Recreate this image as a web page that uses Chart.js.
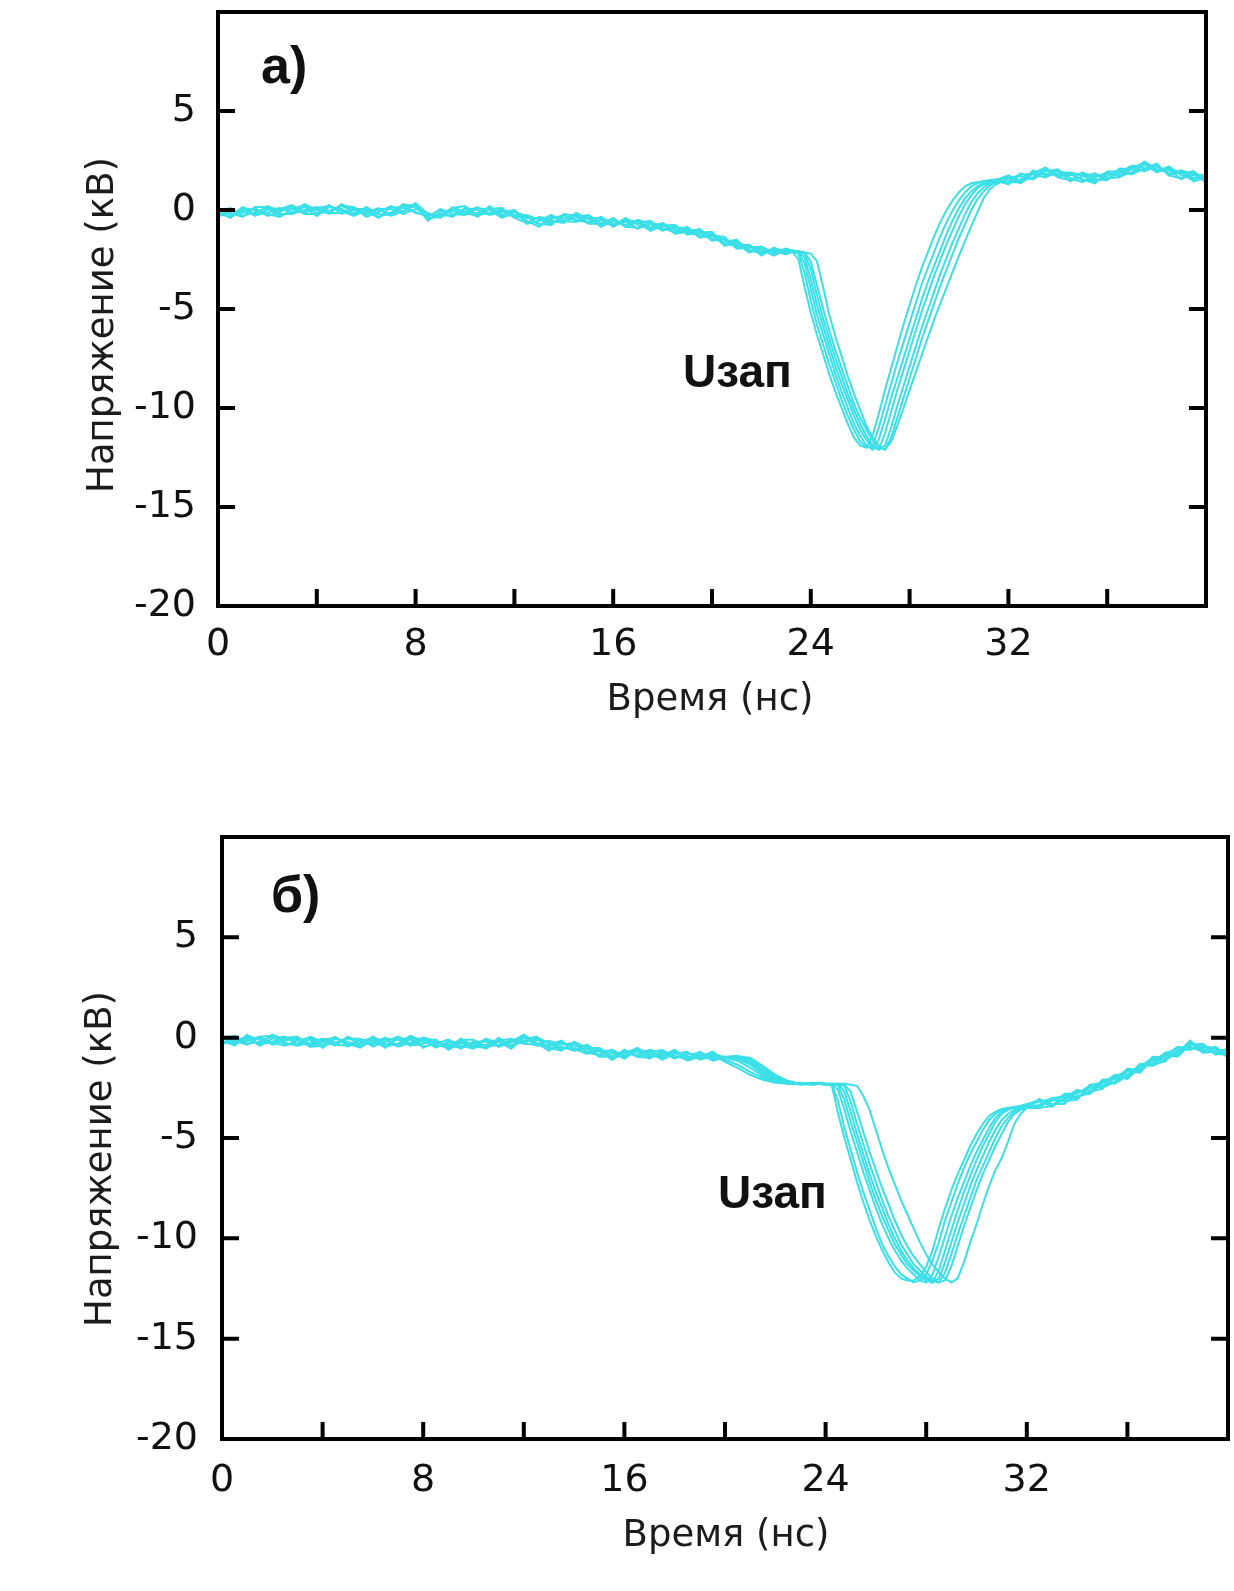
<!DOCTYPE html>
<html>
<head>
<meta charset="utf-8">
<script src="https://cdn.jsdelivr.net/npm/chart.js@4.4.1/dist/chart.umd.min.js"></script>
<style>
  html, body { margin: 0; padding: 0; background: #fff; }
  body { width: 1234px; height: 1591px; position: relative; overflow: hidden; }
  canvas { position: absolute; left: 0; }
  #panelA { top: -48px; }
  #panelB { top: 777px; }
</style>
</head>
<body>
<canvas id="panelA" width="1260" height="800"></canvas>
<canvas id="panelB" width="1260" height="800"></canvas>
<script>
// Time axis (ns) and voltage (kV) tick values shared by both panels
const timeTicks = [0, 4, 8, 12, 16, 20, 24, 28, 32, 36, 40];
const voltTicks = [-20, -15, -10, -5, 0, 5, 10];

// ---------- Panel (а): sample times, ns ----------
const timeA = [
  0,0.5,1,1.5,2,2.5,3,3.5,4,4.5,5,5.5,6,6.5,7,7.5,8,8.5,9,9.5,10,10.5,11,11.5,12,12.5,13,13.5,14,14.5,15,15.5,16,16.5,17,17.5,18,18.5,19,19.5,20,20.5,21,21.5,22,22.5,23,
  23.25,23.5,23.75,24,24.25,24.5,24.75,25,25.25,25.5,25.75,26,26.25,26.5,26.75,27,27.25,27.5,27.75,28,28.25,28.5,28.75,29,29.25,29.5,29.75,30,30.25,30.5,30.75,31,31.25,31.5,
  32,32.5,33,33.5,34,34.5,35,35.5,36,36.5,37,37.5,38,38.5,39,39.5,40
];

// Panel (а): voltage of each recorded pulse, kV
const voltA1 = [
  0.1,-0.25,0.05,-0.3,0,0.1,-0.15,0.15,-0.3,0.15,0.05,-0.25,0.15,-0.2,-0.25,0.15,0.3,-0.5,-0.15,-0.35,0.1,0,-0.25,-0.1,0,-0.55,-0.85,-0.35,-0.45,-0.2,-0.65,-0.5,-0.8,-0.4,-0.75,-0.95,-0.65,-1.05,-1.0,-1.05,-1.55,-1.45,-1.8,-1.75,-2.15,-2.05,-2.25,
  -2.1,-2.5,-3.9,-5.2,-6.3,-7.3,-8.3,-9.2,-10.0,-10.8,-11.5,-11.9,-12.0,-11.4,-10.3,-9.1,-8.0,-6.9,-5.8,-4.8,-3.8,-2.9,-2.1,-1.3,-0.6,0.0,0.5,0.9,1.2,1.35,1.4,1.45,1.5,1.5,
  1.65,1.7,1.55,1.95,2.05,1.6,1.4,1.75,1.7,2.05,1.85,2.3,1.95,2.2,1.75,1.55,1.8
];
const voltA2 = [
  -0.3,0,-0.15,0.1,-0.3,-0.1,0.2,-0.1,0.05,-0.2,0.3,0,-0.25,0.05,0.05,-0.2,0.05,-0.15,-0.4,0.05,-0.15,-0.3,0.2,-0.3,-0.25,-0.25,-0.5,-0.7,-0.3,-0.5,-0.3,-0.85,-0.55,-0.75,-0.5,-0.7,-1.05,-0.8,-1.2,-1.25,-1.15,-1.7,-1.65,-2.15,-1.9,-2.2,-2.05,
  -2.1,-2.2,-3.2,-4.6,-5.8,-6.8,-7.8,-8.7,-9.6,-10.4,-11.1,-11.7,-12.0,-11.9,-11.0,-9.9,-8.8,-7.7,-6.7,-5.7,-4.7,-3.7,-2.9,-2.1,-1.3,-0.6,0.0,0.5,0.9,1.2,1.35,1.45,1.5,1.55,
  1.4,1.4,2.0,1.75,1.8,1.9,1.75,1.4,1.85,1.75,2.2,1.95,2.2,1.85,2.0,1.8,1.4
];
const voltA3 = [
  -0.05,0.1,-0.3,-0.1,0.1,-0.3,-0.1,0.3,0,-0.15,-0.15,0.1,-0.05,-0.4,0.15,0.1,-0.1,-0.35,0.05,-0.2,-0.25,0.1,0,-0.4,-0.1,-0.3,-0.75,-0.55,-0.65,-0.15,-0.45,-0.75,-0.4,-0.85,-0.6,-1.05,-0.8,-0.75,-1.25,-1.1,-1.3,-1.75,-1.55,-2.0,-2.2,-1.95,-2.1,
  -2.1,-2.15,-2.7,-4.0,-5.3,-6.3,-7.3,-8.3,-9.2,-10.0,-10.8,-11.4,-11.9,-12.1,-11.6,-10.6,-9.5,-8.5,-7.5,-6.5,-5.5,-4.5,-3.6,-2.8,-2.0,-1.2,-0.5,0.1,0.6,0.95,1.2,1.35,1.45,1.5,
  1.3,1.8,1.8,1.65,1.95,1.85,1.5,1.55,1.5,2.1,2.05,2.05,2.35,1.75,1.9,1.45,1.65
];
const voltA4 = [
  -0.2,-0.35,0.15,-0.25,-0.15,0.05,0.25,-0.15,0.1,0.2,-0.05,-0.3,0,0,-0.2,0.25,-0.15,-0.25,-0.25,0.1,0.2,-0.25,-0.15,0.05,-0.4,-0.65,-0.35,-0.45,-0.25,-0.55,-0.6,-0.35,-0.7,-0.55,-0.95,-0.6,-0.9,-1.15,-0.85,-1.35,-1.2,-1.5,-1.9,-1.85,-2.0,-2.3,-2.0,
  -2.05,-2.1,-2.4,-3.5,-4.8,-5.9,-6.9,-7.9,-8.8,-9.6,-10.4,-11.1,-11.6,-12.0,-12.1,-11.3,-10.2,-9.1,-8.1,-7.1,-6.1,-5.1,-4.2,-3.3,-2.5,-1.7,-1.0,-0.3,0.3,0.75,1.1,1.3,1.4,1.5,
  1.75,1.45,1.65,2.1,1.65,1.5,1.9,1.65,1.9,1.7,1.9,2.45,2.05,2.05,1.55,1.9,1.55
];
const voltA5 = [
  0.05,-0.15,-0.35,0.15,0.15,-0.2,-0.2,0,0.15,-0.05,0.2,0.15,-0.35,-0.1,0.2,-0.1,0.25,-0.55,-0.05,-0.05,-0.2,-0.15,0.1,-0.25,-0.05,-0.7,-0.55,-0.25,-0.6,-0.35,-0.25,-0.65,-0.75,-0.6,-0.55,-0.9,-0.75,-1.0,-1.15,-0.95,-1.45,-1.6,-1.5,-2.1,-2.1,-2.0,-2.2,
  -2.1,-2.1,-2.2,-3.0,-4.3,-5.5,-6.5,-7.5,-8.4,-9.3,-10.1,-10.8,-11.4,-11.9,-12.1,-11.9,-11.0,-9.9,-8.9,-7.9,-6.9,-5.9,-5.0,-4.1,-3.2,-2.4,-1.6,-0.9,-0.2,0.4,0.85,1.15,1.35,1.45,
  1.35,1.55,1.9,1.8,2.0,1.45,1.7,1.85,1.55,1.9,2.25,2.15,2.0,2.0,1.95,1.6,1.7
];
const voltA6 = [
  -0.35,-0.05,-0.05,-0.2,0.2,-0.05,0.1,-0.2,-0.2,0.25,-0.2,0.05,0.05,-0.35,-0.15,0.3,0.15,-0.4,-0.35,0.15,-0.1,0.15,-0.2,0,-0.3,-0.4,-0.4,-0.6,-0.55,-0.6,-0.4,-0.4,-0.85,-0.5,-0.65,-0.55,-1.0,-0.9,-0.9,-1.4,-1.3,-1.35,-1.95,-1.9,-1.85,-2.15,-1.95,
  -2.05,-2.1,-2.15,-2.6,-3.8,-5.0,-6.1,-7.1,-8.0,-8.9,-9.8,-10.5,-11.1,-11.6,-12.0,-12.1,-11.5,-10.5,-9.5,-8.5,-7.5,-6.5,-5.6,-4.7,-3.8,-3.0,-2.2,-1.4,-0.7,0.0,0.55,0.95,1.25,1.4,
  1.45,1.85,1.6,2.05,1.75,1.75,1.85,1.5,1.6,1.65,2.1,2.4,1.9,2.1,1.85,1.95,1.45
];
const voltA7 = [
  0,-0.4,0.1,0,-0.2,-0.35,0.05,0.25,-0.15,-0.1,0.25,-0.15,-0.15,0.1,-0.3,-0.05,0.35,-0.2,-0.3,-0.25,0.05,-0.35,0.05,0.1,-0.35,-0.35,-0.7,-0.75,-0.2,-0.3,-0.7,-0.7,-0.45,-0.85,-0.9,-0.75,-0.7,-1.2,-1.1,-1.15,-1.1,-1.8,-1.7,-1.8,-2.3,-1.9,-2.15,
  -2.05,-2.1,-2.15,-2.2,-2.6,-3.9,-5.3,-6.4,-7.4,-8.4,-9.3,-10.1,-10.9,-11.5,-11.9,-12.1,-11.7,-10.9,-10.0,-9.1,-8.2,-7.3,-6.4,-5.5,-4.7,-3.9,-3.1,-2.3,-1.55,-0.8,-0.1,0.6,1.05,1.3,
  1.6,1.35,1.85,2.15,1.7,1.8,1.55,1.35,1.95,1.95,1.8,2.1,2.3,1.75,1.6,1.75,1.75
];

// ---------- Panel (б): sample times, ns ----------
const timeB = [
  0,0.5,1,1.5,2,2.5,3,3.5,4,4.5,5,5.5,6,6.5,7,7.5,8,8.5,9,9.5,10,10.5,11,11.5,12,12.5,13,13.5,14,14.5,15,15.5,16,16.5,17,17.5,18,18.5,19,19.5,20,20.5,21,21.5,22,22.5,23,23.5,
  23.75,24,24.25,24.5,24.75,25,25.25,25.5,25.75,26,26.25,26.5,26.75,27,27.25,27.5,27.75,28,28.25,28.5,28.75,29,29.25,29.5,29.75,30,30.25,30.5,30.75,31,31.25,31.5,31.75,32,
  32.5,33,33.5,34,34.5,35,35.5,36,36.5,37,37.5,38,38.5,39,39.5,40
];

// Panel (б): voltage of each recorded pulse, kV
const voltB1 = [
  -0.05,0.1,-0.3,-0.2,0.05,-0.35,-0.3,0.05,-0.2,-0.35,-0.4,-0.1,-0.15,-0.5,0.0,-0.1,-0.45,-0.3,-0.1,-0.4,-0.55,-0.1,-0.2,-0.55,0.0,0.0,-0.55,-0.45,-0.65,-0.35,-0.7,-1.0,-0.6,-0.95,-0.7,-1.1,-0.8,-0.7,-1.1,-0.85,-1.2,-1.5,-1.85,-2.1,-2.25,-2.3,-2.25,-2.35,
  -2.3,-2.3,-2.4,-3.8,-5.0,-6.1,-7.2,-8.2,-9.1,-9.9,-10.6,-11.2,-11.7,-12.0,-12.1,-12.1,-11.9,-11.4,-10.6,-9.5,-8.5,-7.6,-6.8,-6.1,-5.4,-4.8,-4.3,-3.9,-3.7,-3.55,-3.5,-3.45,-3.4,-3.35,
  -3.2,-3.05,-3.2,-2.9,-2.8,-2.1,-2.05,-1.95,-1.3,-1.4,-0.85,-0.95,-0.35,-0.3,-0.85,-0.7
];
const voltB2 = [
  0.05,-0.15,-0.35,0.05,0.1,-0.25,-0.4,-0.25,-0.05,-0.25,-0.05,-0.05,-0.45,-0.2,0.05,-0.3,-0.1,-0.5,-0.2,-0.25,-0.5,-0.35,-0.1,-0.4,0.05,-0.4,-0.35,-0.15,-0.6,-0.55,-0.5,-0.9,-0.95,-0.7,-0.65,-0.95,-0.75,-0.95,-1.0,-0.7,-1.1,-1.35,-1.7,-2.0,-2.2,-2.25,-2.35,-2.3,
  -2.25,-2.35,-2.3,-3.2,-4.5,-5.6,-6.7,-7.7,-8.6,-9.5,-10.3,-10.9,-11.4,-11.8,-12.0,-12.2,-12.1,-11.8,-11.1,-10.2,-9.1,-8.2,-7.3,-6.5,-5.8,-5.2,-4.6,-4.1,-3.8,-3.6,-3.5,-3.5,-3.4,-3.3,
  -3.15,-3.45,-3.0,-2.6,-2.75,-2.3,-1.85,-1.85,-1.65,-1.15,-0.8,-0.8,-0.3,-0.55,-0.75,-0.55
];
const voltB3 = [
  0.1,-0.25,0.05,-0.4,-0.05,0.05,-0.35,-0.1,-0.5,-0.05,-0.2,-0.45,0.05,-0.3,-0.4,-0.05,-0.05,-0.45,-0.3,-0.55,-0.2,-0.2,-0.45,-0.25,0.1,-0.25,-0.65,-0.25,-0.45,-0.4,-0.9,-0.75,-1.0,-0.5,-0.85,-1.0,-0.65,-1.0,-0.85,-0.8,-1.0,-1.15,-1.5,-1.9,-2.15,-2.25,-2.3,-2.3,
  -2.3,-2.3,-2.35,-2.6,-3.6,-4.7,-5.7,-6.7,-7.6,-8.5,-9.3,-10.0,-10.6,-11.1,-11.5,-11.8,-12.1,-12.2,-11.8,-10.9,-9.9,-8.9,-8.0,-7.2,-6.4,-5.7,-5.1,-4.5,-4.0,-3.7,-3.55,-3.45,-3.4,-3.35,
  -3.1,-3.3,-3.3,-2.7,-2.6,-2.15,-2.25,-1.7,-1.7,-0.95,-1.0,-0.85,-0.2,-0.6,-0.6,-0.65
];
const voltB4 = [
  0.0,-0.4,0.1,-0.1,-0.25,-0.4,-0.15,0.0,-0.35,-0.3,0.0,-0.35,-0.25,0.0,-0.45,-0.25,0.0,-0.15,-0.45,-0.45,-0.25,-0.55,-0.15,-0.05,-0.25,-0.05,-0.5,-0.65,-0.2,-0.5,-0.95,-0.95,-0.65,-0.95,-1.0,-0.8,-0.7,-1.15,-0.95,-0.9,-0.95,-1.05,-1.35,-1.8,-2.1,-2.3,-2.3,-2.25,
  -2.3,-2.35,-2.3,-2.4,-3.1,-4.2,-5.2,-6.2,-7.2,-8.1,-8.9,-9.6,-10.3,-10.8,-11.3,-11.6,-11.9,-12.1,-12.2,-11.6,-10.6,-9.6,-8.6,-7.7,-6.9,-6.1,-5.4,-4.8,-4.2,-3.8,-3.6,-3.5,-3.45,-3.35,
  -3.45,-3.1,-3.15,-3.1,-2.35,-2.25,-2.3,-1.9,-1.35,-1.4,-1.15,-0.65,-0.25,-0.75,-0.7,-0.75
];
const voltB5 = [
  -0.3,0.0,-0.15,0.0,-0.35,-0.15,0.0,-0.35,-0.15,-0.4,0.05,-0.2,-0.35,-0.05,-0.1,-0.4,-0.3,-0.1,-0.55,-0.15,-0.45,-0.5,0.0,-0.45,-0.15,0.05,-0.3,-0.6,-0.3,-0.7,-0.55,-1.1,-0.75,-0.85,-0.6,-0.75,-1.05,-0.75,-1.05,-1.0,-1.0,-1.0,-1.25,-1.7,-2.05,-2.25,-2.3,-2.3,
  -2.25,-2.3,-2.35,-2.3,-2.7,-3.7,-4.8,-5.8,-6.8,-7.7,-8.5,-9.3,-10.0,-10.6,-11.1,-11.5,-11.8,-12.0,-12.2,-12.0,-11.2,-10.2,-9.2,-8.3,-7.4,-6.6,-5.9,-5.2,-4.6,-4.1,-3.8,-3.6,-3.5,-3.4,
  -3.35,-3.0,-2.95,-3.05,-2.45,-2.45,-1.9,-2.05,-1.45,-1.3,-0.75,-0.6,-0.6,-0.35,-0.8,-0.85
];
const voltB6 = [
  -0.35,-0.05,-0.05,-0.3,0.15,-0.1,-0.1,-0.45,-0.4,0.05,-0.45,-0.15,-0.05,-0.45,-0.3,0.1,-0.2,-0.35,-0.5,-0.05,-0.4,-0.05,-0.4,-0.15,-0.2,-0.1,-0.2,-0.5,-0.55,-0.8,-0.65,-0.65,-1.05,-0.6,-0.75,-0.6,-1.0,-0.85,-0.75,-1.15,-1.0,-0.95,-1.15,-1.6,-2.0,-2.2,-2.3,-2.3,
  -2.3,-2.3,-2.3,-2.35,-2.4,-3.2,-4.3,-5.3,-6.3,-7.2,-8.1,-8.9,-9.6,-10.3,-10.8,-11.3,-11.6,-11.9,-12.1,-12.2,-11.7,-10.8,-9.8,-8.9,-8.0,-7.1,-6.4,-5.7,-5.0,-4.4,-4.0,-3.7,-3.55,-3.45,
  -3.4,-3.15,-2.85,-2.95,-2.7,-2.55,-2.0,-1.6,-1.75,-1.05,-0.9,-0.45,-0.55,-0.45,-0.5,-1.0
];
const voltB7 = [
  -0.2,-0.35,0.15,-0.35,-0.2,0.0,0.05,-0.4,-0.1,0.0,-0.3,-0.5,-0.1,-0.1,-0.35,0.05,-0.5,-0.2,-0.4,-0.1,-0.1,-0.45,-0.35,-0.1,-0.3,-0.35,-0.15,-0.35,-0.25,-0.75,-0.85,-0.6,-0.9,-0.65,-1.05,-0.65,-0.9,-1.1,-0.7,-1.1,-0.95,-0.9,-1.05,-1.5,-1.95,-2.2,-2.3,-2.35,
  -2.3,-2.35,-2.3,-2.3,-2.35,-2.7,-3.7,-4.7,-5.7,-6.6,-7.5,-8.3,-9.1,-9.8,-10.4,-10.9,-11.3,-11.7,-12.0,-12.2,-12.1,-11.4,-10.4,-9.4,-8.5,-7.6,-6.8,-6.1,-5.4,-4.8,-4.2,-3.8,-3.6,-3.5,
  -3.5,-3.4,-2.8,-2.8,-2.4,-2.5,-2.2,-1.55,-1.6,-1.1,-1.2,-0.5,-0.45,-0.7,-0.45,-0.95
];
const voltB8 = [
  0.1,-0.3,-0.15,0.05,-0.3,-0.05,-0.05,-0.45,-0.2,0.0,-0.35,-0.3,0.05,-0.35,-0.05,-0.35,-0.15,-0.1,-0.6,-0.25,-0.45,-0.1,-0.45,-0.2,0.15,-0.3,-0.45,-0.2,-0.65,-0.5,-0.6,-1.1,-0.75,-0.55,-0.95,-0.9,-0.6,-1.1,-0.8,-1.05,-1.0,-0.95,-1.0,-1.4,-1.85,-2.15,-2.3,-2.3,
  -2.3,-2.3,-2.35,-2.3,-2.3,-2.35,-2.4,-2.9,-3.6,-4.6,-5.6,-6.5,-7.3,-8.1,-8.8,-9.5,-10.2,-10.8,-11.3,-11.7,-12.0,-12.2,-12.0,-11.2,-10.2,-9.3,-8.3,-7.4,-6.6,-6.0,-5.2,-4.3,-3.8,-3.5,
  -3.05,-3.35,-3.1,-2.65,-2.8,-2.25,-1.95,-2.05,-1.45,-1.0,-1.1,-0.75,-0.15,-0.7,-0.55,-0.9
];

const pulsesA = [voltA1, voltA2, voltA3, voltA4, voltA5, voltA6, voltA7];
const pulsesB = [voltB1, voltB2, voltB3, voltB4, voltB5, voltB6, voltB7, voltB8];

[[timeA, pulsesA], [timeB, pulsesB]].forEach(([t, set]) => {
  set.forEach((s, i) => {
    if (s.length !== t.length) throw new Error('pulse ' + (i + 1) + ': ' + s.length + ' values for ' + t.length + ' times');
  });
});

const TRACE_COLOR = '#3adfe7';
const TICK_FONT = { family: 'DejaVu Sans', size: 38 };

// Frame, inward tick marks and the in-plot captions
const framePlugin = {
  id: 'frame',
  afterDraw(chart, args, opts) {
    const { ctx, chartArea: a, scales: { x, y } } = chart;
    ctx.save();
    ctx.strokeStyle = '#000';
    ctx.lineWidth = 4;
    ctx.strokeRect(a.left, a.top, a.right - a.left, a.bottom - a.top);
    ctx.beginPath();
    timeTicks.forEach(t => {
      if (t <= x.min || t >= x.max) return;
      const px = x.getPixelForValue(t);
      ctx.moveTo(px, a.bottom);
      ctx.lineTo(px, a.bottom - 17);
    });
    voltTicks.forEach(v => {
      if (v <= y.min || v >= y.max) return;
      const py = y.getPixelForValue(v);
      ctx.moveTo(a.left, py);
      ctx.lineTo(a.left + 17, py);
      ctx.moveTo(a.right, py);
      ctx.lineTo(a.right - 17, py);
    });
    ctx.stroke();

    ctx.fillStyle = '#111';
    // panel letter
    ctx.font = 'bold 52px "Liberation Sans"';
    ctx.textAlign = 'left';
    ctx.textBaseline = 'alphabetic';
    ctx.fillText(opts.letter.text, opts.letter.x, opts.letter.y);
    // threshold voltage caption
    ctx.font = 'bold 46px "Liberation Sans"';
    ctx.fillText(opts.caption.text, opts.caption.x, opts.caption.y);
    // axis titles
    ctx.fillStyle = '#1c1c1c';
    ctx.font = '37px "DejaVu Sans"';
    ctx.textAlign = 'center';
    ctx.textBaseline = 'middle';
    ctx.fillText(opts.xTitle.text, opts.xTitle.x, opts.xTitle.y);
    ctx.translate(opts.yTitle.x, opts.yTitle.y);
    ctx.rotate(-Math.PI / 2);
    ctx.fillText(opts.yTitle.text, 0, 0);
    ctx.restore();
  }
};

function buildPanel(canvasId, times, pulses, cfg) {
  return new Chart(document.getElementById(canvasId), {
    type: 'line',
    data: {
      datasets: pulses.map((vals, i) => ({
        label: 'U' + (i + 1),
        data: vals.map((v, k) => ({ x: times[k], y: v })),
        borderColor: TRACE_COLOR,
        borderWidth: 2,
        pointRadius: 0,
        tension: 0,
        fill: false
      }))
    },
    options: {
      responsive: false,
      animation: false,
      devicePixelRatio: 1,
      layout: { padding: cfg.padding },
      plugins: {
        legend: { display: false },
        tooltip: { enabled: false },
        frame: cfg.text
      },
      scales: {
        x: {
          type: 'linear',
          min: 0,
          max: 40,
          afterFit: s => { s.height = cfg.xHeight; },
          grid: { display: false, drawTicks: false },
          border: { display: false },
          ticks: {
            stepSize: 8,
            autoSkip: false,
            maxRotation: 0,
            padding: cfg.xPad,
            color: '#111',
            font: TICK_FONT,
            callback: v => (v === 40 ? '' : String(v))
          }
        },
        y: {
          min: -20,
          max: 10,
          afterFit: s => { s.width = cfg.yWidth; },
          grid: { display: false, drawTicks: false },
          border: { display: false },
          ticks: {
            stepSize: 5,
            padding: cfg.yPad,
            color: '#111',
            font: TICK_FONT,
            callback: v => (v === 10 ? '' : String(v))
          }
        }
      }
    },
    plugins: [framePlugin]
  });
}

buildPanel('panelA', timeA, pulsesA, {
  padding: { top: 60, right: 54, left: 0, bottom: 0 },
  yWidth: 218, xHeight: 146, xPad: 16, yPad: 22,
  text: {
    letter: { text: 'а)', x: 261, y: 131 },
    caption: { text: 'Uзап', x: 683, y: 435 },
    xTitle: { text: 'Время (нс)', x: 710, y: 748 },
    yTitle: { text: 'Напряжение (кВ)', x: 103, y: 373 }
  }
});

buildPanel('panelB', timeB, pulsesB, {
  padding: { top: 60, right: 32, left: 0, bottom: 0 },
  yWidth: 222, xHeight: 138, xPad: 19, yPad: 24,
  text: {
    letter: { text: 'б)', x: 271, y: 135 },
    caption: { text: 'Uзап', x: 718, y: 431 },
    xTitle: { text: 'Время (нс)', x: 726, y: 759 },
    yTitle: { text: 'Напряжение (кВ)', x: 101, y: 382 }
  }
});
</script>
</body>
</html>
